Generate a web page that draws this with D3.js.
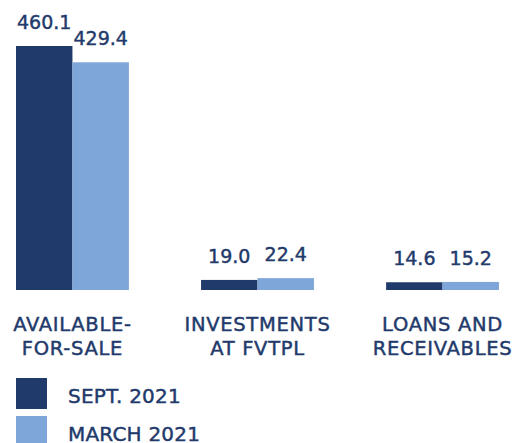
<!DOCTYPE html>
<html>
<head>
<meta charset="utf-8">
<script src="https://cdn.jsdelivr.net/npm/d3@7"></script>
<style>
  body { margin: 0; background: #fff; }
  text { font-family: "DejaVu Sans", sans-serif; fill: #1f3a6b; stroke: #1f3a6b; stroke-width: 0.45px; }
</style>
</head>
<body>
<svg width="515" height="443"></svg>
<script>
"use strict";

// Chart data
var categories = ["AVAILABLE-FOR-SALE", "INVESTMENTS AT FVTPL", "LOANS AND RECEIVABLES"];
var categoryLines = [["AVAILABLE-", "FOR-SALE"], ["INVESTMENTS", "AT FVTPL"], ["LOANS AND", "RECEIVABLES"]];
var seriesNames = ["SEPT. 2021", "MARCH 2021"];
var sept2021 = [460.1, 19.0, 14.6];
var march2021 = [429.4, 22.4, 15.2];
var colors = ["#1f3a6b", "#7fa6d8"];

var svg = d3.select("svg");

// Scales
var x0 = d3.scaleBand()
    .domain(categories)
    .range([16, 499])
    .paddingInner(0.39)
    .paddingOuter(0);

var x1 = d3.scaleBand()
    .domain(seriesNames)
    .range([0, x0.bandwidth()]);

var y = d3.scaleLinear()
    .domain([0, 460.1])
    .range([290, 46]);

var rows = categories.map(function (c, i) {
    return { cat: c, values: [sept2021[i], march2021[i]] };
});

var groups = svg.append("g")
        .attr("class", "bars")
    .selectAll("g")
    .data(rows)
    .enter().append("g")
        .attr("transform", function (d) { return "translate(" + x0(d.cat) + ",0)"; });

var cells = groups.selectAll("g")
    .data(function (d) {
        return d.values.map(function (v, j) { return { name: seriesNames[j], value: v, idx: j }; });
    })
    .enter().append("g");

// Bars
cells.append("rect")
    .attr("x", function (d) { return x1(d.name); })
    .attr("y", function (d) { return y(d.value); })
    .attr("width", x1.bandwidth())
    .attr("height", function (d) { return y(0) - y(d.value); })
    .attr("fill", function (d) { return colors[d.idx]; });

// Value labels
cells.append("text")
    .attr("x", function (d) { return x1(d.name) + x1.bandwidth() / 2; })
    .attr("y", function (d) { return y(d.value) - 17; })
    .attr("text-anchor", "middle")
    .style("font-size", "19px")
    .text(function (d) { return d.value.toFixed(1); });

// Category labels
var catLabels = svg.append("g")
        .attr("class", "categories")
    .selectAll("text")
    .data(categories)
    .enter().append("text")
        .attr("x", function (d) { return x0(d) + x0.bandwidth() / 2; })
        .attr("y", 331)
        .attr("text-anchor", "middle")
        .style("font-size", "19.5px")
        .style("letter-spacing", "0.7px");

catLabels.selectAll("tspan")
    .data(function (d, i) { return categoryLines[i]; })
    .enter().append("tspan")
        .attr("x", function () { var p = d3.select(this.parentNode).datum(); return x0(p) + x0.bandwidth() / 2; })
        .attr("dy", function (d, i) { return i === 0 ? 0 : 24; })
        .text(function (d) { return d; });

// Legend
var legend = svg.append("g")
        .attr("class", "legend")
    .selectAll("g")
    .data(seriesNames)
    .enter().append("g")
        .attr("transform", function (d, i) { return "translate(16," + (378 + i * 38) + ")"; });

legend.append("rect")
    .attr("width", 31)
    .attr("height", 31)
    .attr("fill", function (d, i) { return colors[i]; });

legend.append("text")
    .attr("x", 52)
    .attr("y", 25)
    .style("font-size", "20px")
    .style("letter-spacing", "0.2px")
    .text(function (d) { return d; });
</script>
</body>
</html>
